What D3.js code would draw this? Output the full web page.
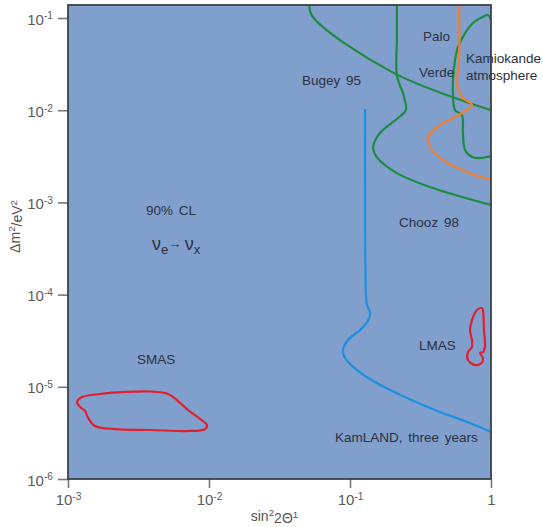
<!DOCTYPE html>
<html>
<head>
<meta charset="utf-8">
<script src="https://cdn.jsdelivr.net/npm/d3@7"></script>
<style>
  body { margin: 0; background: #fff; }
  text { font-family: "Liberation Sans", Arial, sans-serif; }
</style>
</head>
<body>
<svg id="chart"></svg>
<script>
// tick values (both axes are log)
const xTicks = [1e-3, 1e-2, 1e-1, 1];
const yTicks = [1e-6, 1e-5, 1e-4, 1e-3, 1e-2, 1e-1];

// exclusion / allowed curves, [sin^2 2theta, dm^2 in eV^2]
const bugey95 = [[0.0520, 0.15], [0.0533, 0.108], [0.199, 2.59e-2], [1, 1.00e-2]];
const chooz98 = [[0.215, 0.15], [0.215, 5.77e-2], [0.215, 2.41e-2], [0.242, 1.39e-2], [0.249, 1.00e-2],
  [0.219, 8.22e-3], [0.163, 5.66e-3], [0.146, 3.99e-3], [0.155, 3.10e-3], [0.215, 2.08e-3],
  [0.369, 1.47e-3], [1, 9.38e-4]];
const paloVerde = [[0.593, 0.15], [0.593, 3.50e-2], [0.574, 1.97e-2], [0.622, 1.39e-2], [0.733, 1.14e-2],
  [0.622, 9.33e-3], [0.414, 6.58e-3], [0.357, 5.12e-3], [0.369, 3.99e-3], [0.457, 2.88e-3],
  [0.676, 2.14e-3], [1, 1.75e-3]];
const kamiokande = [[1, 9.27e-2], [0.953, 0.108], [0.877, 0.103], [0.745, 8.83e-2], [0.655, 6.87e-2],
  [0.583, 4.84e-2], [0.556, 3.50e-2], [0.537, 2.13e-2], [0.537, 1.57e-2], [0.556, 1.00e-2],
  [0.622, 8.87e-3], [0.632, 5.66e-3], [0.655, 3.70e-3], [0.733, 3.10e-3], [0.836, 3.03e-3], [1, 3.18e-3]];
const kamland = [[0.128, 1.03e-2], [0.128, 1.06e-3], [0.130, 9.42e-5], [0.132, 7.71e-5], [0.139, 6.31e-5],
  [0.134, 5.18e-5], [0.118, 4.13e-5], [0.0968, 3.22e-5], [0.0891, 2.51e-5], [0.0923, 2.05e-5],
  [0.112, 1.52e-5], [0.155, 1.10e-5], [0.254, 7.57e-6], [0.434, 5.33e-6], [0.710, 4.05e-6], [1, 3.24e-6]];
const smas = [[1.16e-3, 6.84e-6], [1.26e-3, 7.74e-6], [1.69e-3, 8.36e-6], [2.54e-3, 8.79e-6], [3.82e-3, 8.89e-6],
  [5.12e-3, 8.36e-6], [6.03e-3, 7.01e-6], [7.10e-3, 5.60e-6], [8.63e-3, 4.48e-6], [9.68e-3, 3.85e-6],
  [9.38e-3, 3.48e-6], [7.57e-3, 3.32e-6], [3.82e-3, 3.40e-6], [2.15e-3, 3.48e-6], [1.55e-3, 3.76e-6],
  [1.39e-3, 4.59e-6], [1.32e-3, 5.47e-6], [1.22e-3, 6.04e-6]];
const lmas = [[0.796, 6.81e-5], [0.863, 7.16e-5], [0.885, 5.71e-5], [0.891, 4.13e-5], [0.906, 2.70e-5],
  [0.877, 2.38e-5], [0.836, 2.33e-5], [0.877, 2.05e-5], [0.857, 1.81e-5], [0.771, 1.72e-5],
  [0.687, 1.95e-5], [0.687, 2.38e-5], [0.733, 2.70e-5], [0.733, 3.22e-5], [0.710, 4.13e-5], [0.733, 5.30e-5]];

// text labels, anchored at their left baseline in data units
const labels = [
  { text: "Palo", x: 0.330, y: 0.0564 },
  { text: "Verde", x: 0.308, y: 0.0229 },
  { text: "Kamiokande", x: 0.665, y: 0.0325 },
  { text: "atmosphere", x: 0.665, y: 0.0213 },
  { text: "Bugey 95", x: 0.0457, y: 0.01875 },
  { text: "Chooz 98", x: 0.223, y: 5.41e-4 },
  { text: "90% CL", x: 3.57e-3, y: 7.30e-4 },
  { text: "SMAS", x: 3.08e-3, y: 1.77e-5 },
  { text: "LMAS", x: 0.308, y: 2.51e-5 },
  { text: "KamLAND, three years", x: 0.0783, y: 2.52e-6 }
];

const width = 543, height = 527;
const margin = { top: 5, right: 52, bottom: 48, left: 68 };

const x = d3.scaleLog().domain([1e-3, 1]).range([margin.left, width - margin.right]);
const y = d3.scaleLog().domain([1e-6, 0.1384]).range([height - margin.bottom, margin.top]);

const svg = d3.select("#chart").attr("width", width).attr("height", height);

svg.append("defs").append("clipPath").attr("id", "plot-clip")
  .append("rect")
  .attr("x", x.range()[0]).attr("y", y.range()[1])
  .attr("width", x.range()[1] - x.range()[0])
  .attr("height", y.range()[0] - y.range()[1]);

// background
svg.append("rect")
  .attr("x", x.range()[0]).attr("y", y.range()[1])
  .attr("width", x.range()[1] - x.range()[0])
  .attr("height", y.range()[0] - y.range()[1])
  .attr("fill", "#809fcc");

function powLabel(text, v) {
  const e = Math.round(Math.log10(v));
  text.text(null);
  if (e === 0) { text.append("tspan").text("1"); return; }
  text.append("tspan").text("10");
  text.append("tspan").attr("dy", "-0.5em").attr("font-size", "0.68em").text(e);
}

// axes
const xAxis = svg.append("g")
  .attr("transform", `translate(0,${y.range()[0]})`)
  .call(d3.axisBottom(x).tickValues(xTicks).tickSize(9).tickFormat(""));
xAxis.select(".domain").remove();
xAxis.selectAll(".tick line").attr("stroke", "#777").attr("stroke-width", 1.6);
xAxis.selectAll(".tick text")
  .attr("y", 26).attr("dy", 0)
  .attr("fill", "#5c5c5c").attr("font-size", 15)
  .each(function (d) { powLabel(d3.select(this), d); });

const yAxis = svg.append("g")
  .attr("transform", `translate(${x.range()[0]},0)`)
  .call(d3.axisLeft(y).tickValues(yTicks).tickSize(10).tickFormat(""));
yAxis.select(".domain").remove();
yAxis.selectAll(".tick line").attr("stroke", "#777").attr("stroke-width", 1.6);
yAxis.selectAll(".tick text")
  .attr("x", -15).attr("dy", "0.4em")
  .attr("fill", "#5c5c5c").attr("font-size", 15)
  .each(function (d) { powLabel(d3.select(this), d); });

// curves
const line = d3.line().x(d => x(d[0])).y(d => y(d[1])).curve(d3.curveCatmullRom.alpha(0.5));
const loop = d3.line().x(d => x(d[0])).y(d => y(d[1])).curve(d3.curveCatmullRomClosed.alpha(0.5));

const curves = svg.append("g").attr("clip-path", "url(#plot-clip)")
  .attr("fill", "none").attr("stroke-width", 2.2).attr("stroke-linejoin", "round");

curves.append("path").attr("d", line(bugey95)).attr("stroke", "#1d8c41");
curves.append("path").attr("d", line(chooz98)).attr("stroke", "#1d8c41");
curves.append("path").attr("d", line(kamiokande)).attr("stroke", "#1d8c41");
curves.append("path").attr("d", line(paloVerde)).attr("stroke", "#f08030");
curves.append("path").attr("d", line(kamland)).attr("stroke", "#1e8fe0");
curves.append("path").attr("d", loop(smas)).attr("stroke", "#e0202e");
curves.append("path").attr("d", loop(lmas)).attr("stroke", "#e0202e");

// frame
svg.append("rect")
  .attr("x", x.range()[0]).attr("y", y.range()[1])
  .attr("width", x.range()[1] - x.range()[0])
  .attr("height", y.range()[0] - y.range()[1])
  .attr("fill", "none").attr("stroke", "#3f4147").attr("stroke-width", 1.8);

// in-plot labels
svg.append("g").selectAll("text")
  .data(labels)
  .join("text")
  .attr("x", d => x(d.x))
  .attr("y", d => y(d.y))
  .attr("font-size", 13.5)
  .attr("word-spacing", 2)
  .attr("fill", "#2c3140")
  .text(d => d.text);

// nu_e -> nu_x
const nu = svg.append("text")
  .attr("x", x(3.94e-3)).attr("y", y(3.05e-4))
  .attr("font-size", 18).attr("fill", "#2c3140");
nu.append("tspan").text("ν");
nu.append("tspan").attr("dy", 4).attr("font-size", 13).text("e");
nu.append("tspan").attr("dy", -6).attr("font-size", 13).text("\u2192  ");
nu.append("tspan").attr("dy", 2).attr("font-size", 18).text("ν");
nu.append("tspan").attr("dy", 4).attr("font-size", 13).text("x");

// axis titles
const xt = svg.append("text")
  .attr("x", (x.range()[0] + x.range()[1]) / 2 - 5)
  .attr("y", height - 6)
  .attr("text-anchor", "middle")
  .attr("font-size", 14).attr("fill", "#555");
xt.append("tspan").text("sin");
xt.append("tspan").attr("dy", "-0.5em").attr("font-size", "0.7em").text("2");
xt.append("tspan").attr("dy", "0.5em").text("2Θ");
xt.append("tspan").attr("dy", "-0.5em").attr("font-size", "0.7em").text("1");

const yt = svg.append("text")
  .attr("transform", `translate(20,${y(1e-3) + 24}) rotate(-90)`)
  .attr("text-anchor", "middle")
  .attr("font-size", 14).attr("fill", "#555");
yt.append("tspan").text("Δm");
yt.append("tspan").attr("dy", "-0.5em").attr("font-size", "0.7em").text("2");
yt.append("tspan").attr("dy", "0.5em").text("/eV");
yt.append("tspan").attr("dy", "-0.5em").attr("font-size", "0.7em").text("2");
</script>
</body>
</html>
